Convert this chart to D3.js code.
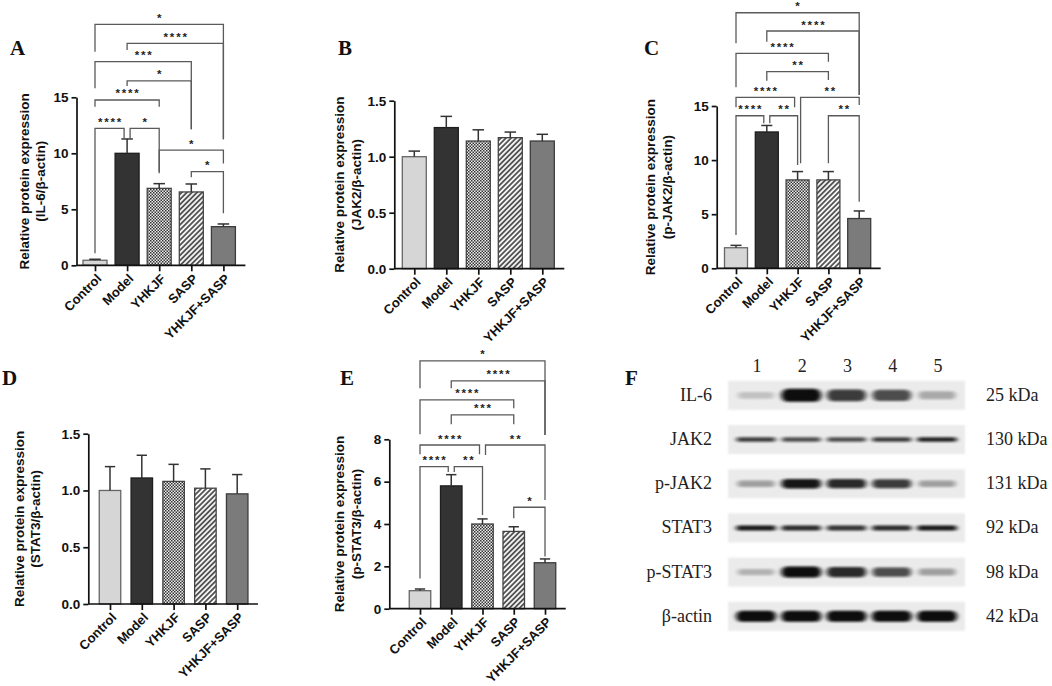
<!DOCTYPE html>
<html><head><meta charset="utf-8">
<script src="https://cdn.jsdelivr.net/npm/d3@7"></script>
<style>body{margin:0;background:#fff} svg{display:block}</style>
</head><body>
<svg id="c" width="1052" height="686"></svg>
<script>
// ---------------- data ----------------
const categories = ["Control","Model","YHKJF","SASP","YHKJF+SASP"];

const il6Mean = [0.45, 10.0, 6.87, 6.55, 3.45];
const il6Err  = [0.09, 1.28, 0.42, 0.71, 0.24];
const il6Ticks = [0, 5, 10, 15];
// [from, to, level, left leg end, right leg end, label]
const il6Sig = [
  [0,4,21.52,19.07,11.25,"*"],
  [1,4,19.82,19.22,11.25,"****"],
  [0,3,18.18,15.80,12.14,"***"],
  [1,3,16.46,16.00,12.14,"*"],
  [0,2,14.76,14.16,14.16,"****"],
  [0,1,12.23,1.07,11.34,"****"],
  [1,2,12.23,11.34,8.36,"*"],
  [2,4,10.29,8.21,9.10,"*"],
  [3,4,8.36,7.86,4.64,"*"]
];

const jak2Mean = [1.00, 1.26, 1.14, 1.17, 1.14];
const jak2Err  = [0.05, 0.10, 0.10, 0.05, 0.06];
const jak2Ticks = [0, 0.5, 1.0, 1.5];

const pjak2Mean = [1.90, 12.60, 8.17, 8.17, 4.60];
const pjak2Err  = [0.22, 0.60, 0.77, 0.77, 0.70];
const pjak2Ticks = [0, 5, 10, 15];
const pjak2Sig = [
  [0,4,23.62,20.80,16.02,"*"],
  [1,4,21.93,20.94,16.02,"****"],
  [0,3,19.87,16.73,19.09,"****"],
  [1,3,18.17,17.34,17.40,"**"],
  [0,2,15.80,14.88,14.88,"****"],
  [2,4,15.80,9.70,15.09,"**"],
  [0,1,14.10,3.08,13.40,"****"],
  [1,2,14.10,13.40,9.55,"**"],
  [3,4,14.10,9.70,6.15,"**"]
];

const stat3Mean = [1.00, 1.11, 1.08, 1.02, 0.97];
const stat3Err  = [0.21, 0.20, 0.15, 0.17, 0.17];
const stat3Ticks = [0, 0.5, 1.0, 1.5];

const pstat3Mean = [0.85, 5.80, 4.00, 3.65, 2.17];
const pstat3Err  = [0.08, 0.53, 0.24, 0.22, 0.18];
const pstat3Ticks = [0, 2, 4, 6, 8];
const pstat3Sig = [
  [0,4,11.70,10.41,8.20,"*"],
  [1,4,10.76,10.41,8.20,"****"],
  [0,3,9.86,8.24,9.47,"****"],
  [1,3,9.15,8.71,8.71,"***"],
  [0,2,7.73,7.29,7.29,"****"],
  [2,4,7.73,7.26,5.13,"**"],
  [0,1,6.71,1.43,6.45,"****"],
  [1,2,6.71,6.45,4.43,"**"],
  [3,4,4.79,4.27,2.46,"*"]
];

// western blot
const blotProteins = ["IL-6","JAK2","p-JAK2","STAT3","p-STAT3","β-actin"];
const blotSizes = ["25 kDa","130 kDa","131 kDa","92 kDa","98 kDa","42 kDa"];
const lanes = ["1","2","3","4","5"];
const il6Band    = [0.30, 1.00, 0.85, 0.80, 0.45];
const jak2Band   = [0.85, 0.80, 0.80, 0.85, 0.92];
const pjak2Band  = [0.50, 0.95, 0.90, 0.85, 0.50];
const stat3Band  = [0.95, 0.90, 0.88, 0.90, 0.95];
const pstat3Band = [0.40, 1.00, 0.90, 0.80, 0.50];
const actinBand  = [1.00, 1.00, 1.00, 1.00, 1.00];

// ---------------- drawing ----------------
const SANS = "'Liberation Sans', Arial, sans-serif";
const SERIF = "'Liberation Serif', 'Times New Roman', serif";
const svg = d3.select("#c");
svg.append("rect").attr("width",1052).attr("height",686).attr("fill","#fff");
const defs = svg.append("defs");

const chk = defs.append("pattern").attr("id","chk").attr("patternUnits","userSpaceOnUse")
  .attr("width",3).attr("height",3);
chk.append("rect").attr("width",3).attr("height",3).attr("fill","#eeeeee");
chk.append("rect").attr("width",1.5).attr("height",1.5).attr("fill","#333");
chk.append("rect").attr("x",1.5).attr("y",1.5).attr("width",1.5).attr("height",1.5).attr("fill","#333");

const hat = defs.append("pattern").attr("id","hatch").attr("patternUnits","userSpaceOnUse")
  .attr("width",3.6).attr("height",3.6).attr("patternTransform","rotate(45)");
hat.append("rect").attr("width",3.6).attr("height",3.6).attr("fill","#f4f4f4");
hat.append("line").attr("x1",1.8).attr("x2",1.8).attr("y1",0).attr("y2",3.6)
  .attr("stroke","#333").attr("stroke-width",1.5);

defs.append("filter").attr("id","blur").attr("x","-40%").attr("y","-150%").attr("width","180%").attr("height","400%")
  .append("feGaussianBlur").attr("stdDeviation","2.4 1.3");
defs.append("filter").attr("id","soft").attr("x","-5%").attr("y","-20%").attr("width","110%").attr("height","140%")
  .append("feGaussianBlur").attr("stdDeviation",0.8);

const fills = ["#d6d6d6","#333333","url(#chk)","url(#hatch)","#7b7b7b"];
const strokes = ["#666","#1e1e1e","#444","#444","#3c3c3c"];

function drawPanel(cfg, mean, err, ticks, sig, title2, fmt) {
  const g = svg.append("g");
  const n = categories.length;
  const x = d3.scalePoint().domain(categories).range([cfg.c0, cfg.c0 + cfg.step*(n-1)]);
  const y = d3.scaleLinear().domain([0, cfg.yTopVal]).range([cfg.y0, cfg.yTopPx]);
  const xEnd = x(categories[n-1]) + cfg.bw/2 + 10;

  g.selectAll("rect.bar").data(categories).join("rect").attr("class","bar")
    .attr("x", d => x(d) - cfg.bw/2)
    .attr("y", (d,i) => y(mean[i]))
    .attr("width", cfg.bw)
    .attr("height", (d,i) => y(0) - y(mean[i]))
    .attr("fill", (d,i) => fills[i])
    .attr("stroke", (d,i) => strokes[i]).attr("stroke-width", 1.3);

  const eg = g.append("g").attr("stroke","#333").attr("stroke-width",1.5).attr("fill","none");
  categories.forEach((c,i) => {
    const cx = x(c);
    eg.append("line").attr("x1",cx).attr("x2",cx).attr("y1",y(mean[i])).attr("y2",y(mean[i]+err[i]));
    eg.append("line").attr("x1",cx - cfg.bw*0.24).attr("x2",cx + cfg.bw*0.24)
      .attr("y1",y(mean[i]+err[i])).attr("y2",y(mean[i]+err[i]));
  });

  const ya = g.append("g").attr("transform",`translate(${cfg.ax},0)`)
    .call(d3.axisLeft(y).tickValues(ticks).tickSize(5).tickSizeOuter(0).tickPadding(3).tickFormat(fmt));
  ya.selectAll("path,line").attr("stroke","#111").attr("stroke-width",1.7);
  ya.selectAll("text").attr("font-family",SANS).attr("font-size",13.5).attr("font-weight","bold").attr("fill","#111");

  const xa = g.append("g").attr("transform",`translate(0,${cfg.y0})`)
    .call(d3.axisBottom(x).tickSize(6).tickSizeOuter(0).tickFormat(""));
  xa.select(".domain").remove();
  xa.selectAll("line").attr("stroke","#111").attr("stroke-width",1.7);
  g.append("line").attr("x1",cfg.ax).attr("x2",xEnd).attr("y1",cfg.y0).attr("y2",cfg.y0)
    .attr("stroke","#111").attr("stroke-width",1.7);

  g.selectAll("text.cat").data(categories).join("text").attr("class","cat")
    .attr("transform", d => `translate(${x(d)+4},${cfg.y0+11}) rotate(-45)`)
    .attr("text-anchor","end").attr("dy","0.35em")
    .attr("font-family",SANS).attr("font-size",13).attr("font-weight","bold").attr("fill","#111")
    .text(d => d);

  const cy = (cfg.y0 + cfg.yTopPx)/2;
  [["Relative protein expression", cfg.t1], [title2, cfg.t2]].forEach(([t, tx]) => {
    g.append("text").attr("transform",`translate(${tx},${cy}) rotate(-90)`)
      .attr("text-anchor","middle").attr("dy","0.35em")
      .attr("font-family",SANS).attr("font-size",13.5).attr("font-weight","bold").attr("fill","#111")
      .text(t);
  });

  g.append("text").attr("x",cfg.label[0]).attr("y",cfg.label[1])
    .attr("font-family",SERIF).attr("font-size",21).attr("font-weight","bold").attr("fill","#111")
    .text(cfg.label[2]);

  if (sig) {
    const bg = g.append("g");
    sig.forEach(s => {
      const [i,j,lev,le,re,lab] = s;
      let offL = 0, offR = 0;
      sig.forEach(o => {
        if (o === s || o[2] !== lev) return;
        if (o[1] === i) offL = 3;
        if (o[0] === j) offR = -3;
      });
      const xl = x(categories[i]) + offL, xr = x(categories[j]) + offR;
      bg.append("path")
        .attr("d", `M${xl},${y(le)}V${y(lev)}H${xr}V${y(re)}`)
        .attr("fill","none").attr("stroke","#5a5a5a").attr("stroke-width",1.3);
      bg.append("text").attr("x",(xl+xr)/2 + 0.9).attr("y",y(lev)-2.5)
        .attr("text-anchor","middle").attr("letter-spacing","1.8px")
        .attr("font-family",SANS).attr("font-size",11.5).attr("font-weight","bold").attr("fill","#222")
        .text(lab);
    });
  }
}

const f0 = d3.format("d"), f1 = d3.format(".1f");
drawPanel({ax:76.5, y0:265.3, yTopPx:97.3, yTopVal:15, c0:95, step:32.1, bw:24, t1:24, t2:40, label:[10,55,"A"]},
  il6Mean, il6Err, il6Ticks, il6Sig, "(IL-6/β-actin)", f0);
drawPanel({ax:394.3, y0:268.7, yTopPx:100.7, yTopVal:1.5, c0:414.3, step:32, bw:24, t1:339, t2:356, label:[338,55,"B"]},
  jak2Mean, jak2Err, jak2Ticks, null, "(JAK2/β-actin)", f1);
drawPanel({ax:716.7, y0:268.3, yTopPx:106, yTopVal:15, c0:736, step:30.8, bw:23, t1:650, t2:667, label:[644,55,"C"]},
  pjak2Mean, pjak2Err, pjak2Ticks, pjak2Sig, "(p-JAK2/β-actin)", f0);
drawPanel({ax:88.3, y0:604, yTopPx:433.7, yTopVal:1.5, c0:110, step:31.8, bw:21.5, t1:19, t2:35, label:[2,385,"D"]},
  stat3Mean, stat3Err, stat3Ticks, null, "(STAT3/β-actin)", f1);
drawPanel({ax:389.3, y0:608.7, yTopPx:439.3, yTopVal:8, c0:420, step:31.25, bw:21.5, t1:339, t2:356, label:[340,385,"E"]},
  pstat3Mean, pstat3Err, pstat3Ticks, pstat3Sig, "(p-STAT3/β-actin)", f0);

// ---------------- panel F: western blot ----------------
const bandSets = [il6Band, jak2Band, pjak2Band, stat3Band, pstat3Band, actinBand];
const bandThick = [[4,9],[4.5,0],[3,7],[5,0],[3,8],[11,0]];
const rowY = d3.scalePoint().domain(blotProteins).range([395.3, 395.3 + 5*44.2]);
const laneX = d3.scalePoint().domain(lanes).range([756, 937]);
const fg = svg.append("g");
fg.append("text").attr("x",625).attr("y",385).attr("font-family",SERIF).attr("font-size",21)
  .attr("font-weight","bold").attr("fill","#111").text("F");
fg.selectAll("text.lane").data(lanes).join("text").attr("class","lane")
  .attr("x", d => laneX(d) + 1).attr("y", 372).attr("text-anchor","middle")
  .attr("font-family",SERIF).attr("font-size",18).attr("fill","#222").text(d => d);
blotProteins.forEach((p, r) => {
  const cy = rowY(p);
  fg.append("rect").attr("x",728).attr("y",cy-14.5).attr("width",237).attr("height",29)
    .attr("fill","#ebebeb").attr("filter","url(#soft)");
  lanes.forEach((l, k) => {
    const v = bandSets[r][k];
    const h = bandThick[r][0] + bandThick[r][1]*v;
    const w = 34 + 6*v;
    fg.append("rect").attr("x", laneX(l) - w/2).attr("y", cy - h/2).attr("width", w).attr("height", h)
      .attr("rx", h/2).attr("ry", h/2)
      .attr("fill","#0a0a0a").attr("opacity", Math.min(1, 0.1 + 0.95*v*v))
      .attr("filter","url(#blur)");
  });
  fg.append("text").attr("x",712).attr("y",cy+5.5).attr("text-anchor","end")
    .attr("font-family",SERIF).attr("font-size",18).attr("fill","#222").text(p);
  fg.append("text").attr("x",986).attr("y",cy+5.5)
    .attr("font-family",SERIF).attr("font-size",18).attr("fill","#222").text(blotSizes[r]);
});
</script>
</body></html>
